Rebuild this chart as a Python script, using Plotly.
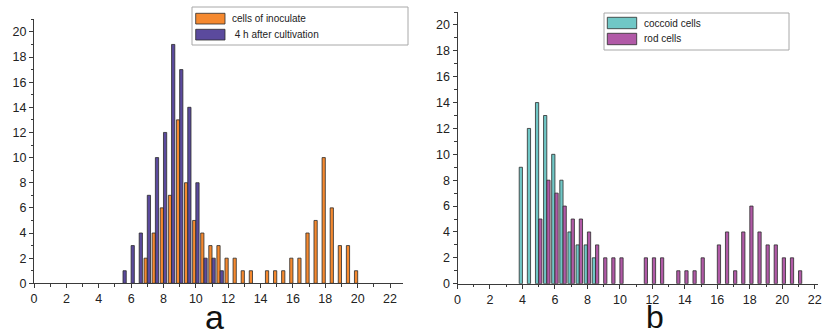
import plotly.graph_objects as go

# ---------------- data ----------------
# panel a: bin centres (µm) and counts
inoc_x = [7.0, 7.5, 8.0, 8.5, 9.0, 9.5, 10.0, 10.5, 11.0, 11.5, 12.0, 12.5, 13.0, 13.5,
          14.5, 15.0, 15.5, 16.0, 16.5, 17.0, 17.5, 18.0, 18.5, 19.0, 19.5, 20.0]
inoc_y = [2, 4, 6, 7, 13, 8, 5, 4, 3, 3, 2, 2, 1, 1,
          1, 1, 1, 2, 2, 4, 5, 10, 6, 3, 3, 1]
cult_x = [5.5, 6.0, 6.5, 7.0, 7.5, 8.0, 8.5, 9.0, 9.5, 10.0, 10.5, 11.0, 11.5]
cult_y = [1, 3, 4, 7, 10, 12, 19, 17, 14, 8, 2, 2, 1]

# panel b
cocc_x = [4.0, 4.5, 5.0, 5.5, 6.0, 6.5, 7.0, 7.5, 8.0, 8.5]
cocc_y = [9, 12, 14, 13, 10, 8, 4, 3, 3, 2]
rod_x = [5.0, 5.5, 6.0, 6.5, 7.0, 7.5, 8.0, 8.5, 9.0, 9.5, 10.0,
         11.5, 12.0, 12.5, 13.5, 14.0, 14.5, 15.0, 16.0, 16.5, 17.0,
         17.5, 18.0, 18.5, 19.0, 19.5, 20.0, 20.5, 21.0]
rod_y = [5, 8, 7, 6, 5, 5, 4, 3, 2, 2, 2,
         2, 2, 2, 1, 1, 1, 2, 3, 4, 1,
         4, 6, 4, 3, 3, 2, 2, 1]

names_a = ["cells of inoculate", "4 h after cultivation"]
names_b = ["coccoid cells", "rod cells"]
panel_labels = ["a", "b"]

C_ORANGE = "#F5892F"
C_PURPLE = "#5B4A9D"
C_CYAN = "#70C7C6"
C_MAGENTA = "#B15AA7"
EDGE = "#2b2b2b"

W, H = 822, 330


def px(xp):
    return xp / W


def py(yp):
    return 1 - yp / H


fig = go.Figure()

BW = 0.2


def add_bars(x, y, color, offset, xa, ya, name):
    fig.add_trace(go.Bar(
        x=x, y=y, name=name, width=BW, offset=offset,
        marker=dict(color=color, line=dict(color=EDGE, width=0.8)),
        xaxis=xa, yaxis=ya, showlegend=False,
    ))


add_bars(inoc_x, inoc_y, C_ORANGE, -0.2, "x", "y", names_a[0])
add_bars(cult_x, cult_y, C_PURPLE, 0.0, "x", "y", names_a[1])
add_bars(cocc_x, cocc_y, C_CYAN, -0.2, "x2", "y2", names_b[0])
add_bars(rod_x, rod_y, C_MAGENTA, 0.0, "x2", "y2", names_b[1])

AX = "#3a3a3a"
tickfont = dict(family="Liberation Sans, Arial, sans-serif", size=12.5, color="#222")


def xaxis(dom, rng):
    return dict(domain=dom, range=rng, showgrid=False, zeroline=False,
                showline=True, linecolor=AX, linewidth=1,
                ticks="outside", ticklen=4, tickcolor=AX, tickwidth=1,
                tickmode="linear", tick0=0, dtick=2, tickfont=tickfont,
                minor=dict(ticks="outside", ticklen=2.5, dtick=1, tickcolor=AX, showgrid=False),
                automargin=False, fixedrange=True)


def yaxis(dom, anchor):
    return dict(domain=dom, range=[0, 21], showgrid=False, zeroline=False,
                showline=True, linecolor=AX, linewidth=1,
                ticks="outside", ticklen=4, tickcolor=AX, tickwidth=1,
                tickmode="linear", tick0=0, dtick=2, tickfont=tickfont,
                minor=dict(ticks="outside", ticklen=2.5, dtick=1, tickcolor=AX, showgrid=False),
                anchor=anchor, automargin=False, fixedrange=True)


fig.update_layout(
    width=W, height=H, autosize=False, margin=dict(l=0, r=0, t=0, b=0, pad=0),
    paper_bgcolor="white", plot_bgcolor="white",
    barmode="overlay", showlegend=False,
    xaxis=dict(xaxis([px(34), px(403)], [0, 22.8]), anchor="y"),
    yaxis=yaxis([py(283.3), py(19.3)], "x"),
    xaxis2=dict(xaxis([px(457.5), px(818)], [0, 22.2]), anchor="y2"),
    yaxis2=yaxis([py(283.7), py(12)], "x2"),
)

shapes = []
annotations = []


def legend_box(x0, x1, y0, y1, items, sw_x0, sw_x1, text_x):
    shapes.append(dict(type="rect", xref="paper", yref="paper",
                       x0=px(x0), x1=px(x1), y0=py(y1), y1=py(y0),
                       line=dict(color="#a8a8a8", width=1), fillcolor="white", layer="above"))
    for (label, color, sy0, sy1) in items:
        shapes.append(dict(type="rect", xref="paper", yref="paper",
                           x0=px(sw_x0), x1=px(sw_x1), y0=py(sy1), y1=py(sy0),
                           line=dict(color=EDGE, width=0.8), fillcolor=color, layer="above"))
        annotations.append(dict(xref="paper", yref="paper", x=px(text_x), y=py((sy0 + sy1) / 2),
                                text=label, showarrow=False, xanchor="left", yanchor="middle",
                                font=dict(family="Liberation Sans, Arial, sans-serif", size=10, color="#222")))


legend_box(192, 408, 7, 45,
           [(names_a[0], C_ORANGE, 13.3, 24), (" " + names_a[1], C_PURPLE, 29.3, 40)],
           195.7, 225, 230)
legend_box(604, 789, 13, 50,
           [(names_b[0], C_CYAN, 17.3, 28.7), (names_b[1], C_MAGENTA, 33.3, 44.7)],
           607.3, 636.7, 642)

annotations.append(dict(xref="paper", yref="paper", x=px(214), y=py(317), text=panel_labels[0],
                        showarrow=False, xanchor="center", yanchor="middle",
                        font=dict(family="Liberation Sans, Arial, sans-serif", size=34, color="#111")))
annotations.append(dict(xref="paper", yref="paper", x=px(655), y=py(317), text=panel_labels[1],
                        showarrow=False, xanchor="center", yanchor="middle",
                        font=dict(family="Liberation Sans, Arial, sans-serif", size=32, color="#111")))

fig.update_layout(shapes=shapes, annotations=annotations)

fig.write_html("out.html", config={"displayModeBar": False},
               post_script="document.body.style.margin='0';document.body.style.overflow='hidden';")
